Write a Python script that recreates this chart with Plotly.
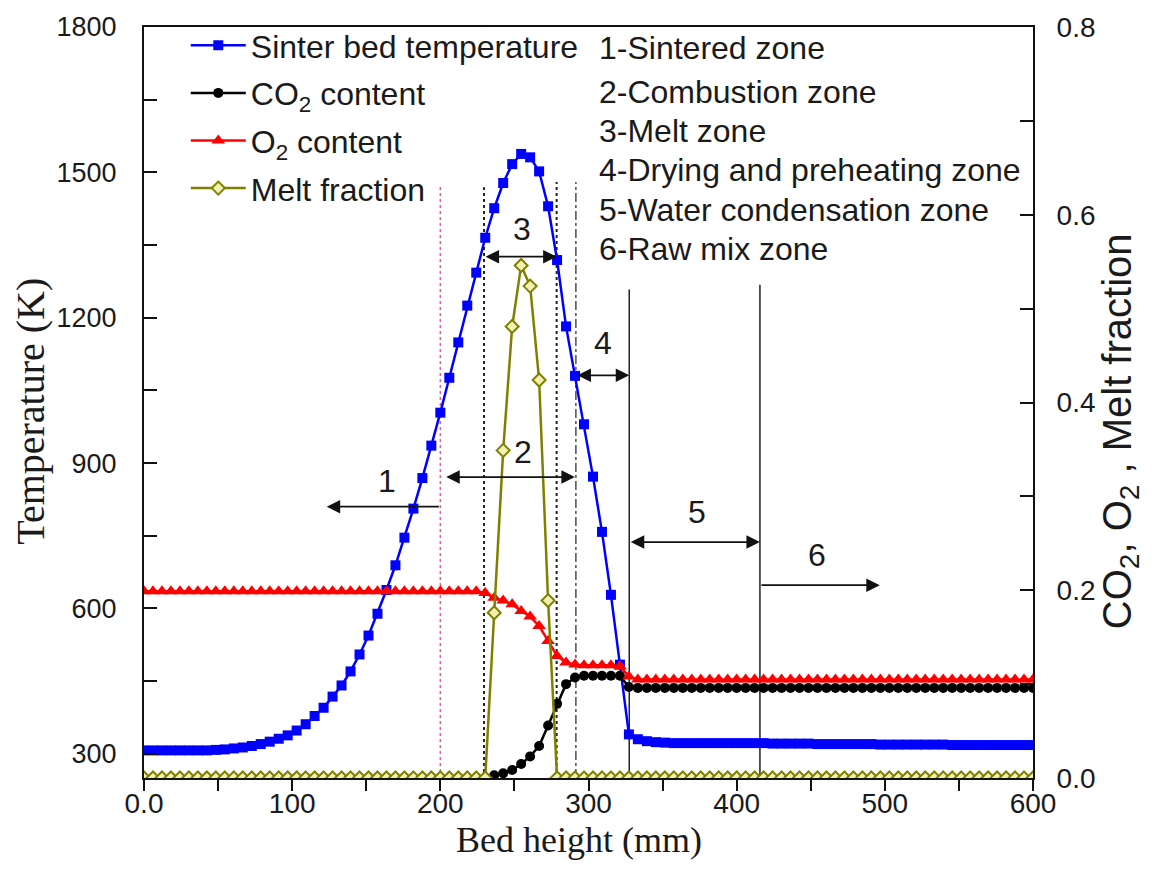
import plotly.graph_objects as go

# ---------------- data ----------------
bed_height = [0.00, 6.06, 12.12, 18.18, 24.24, 30.30, 36.36, 42.42, 48.48, 54.55,
              60.61, 66.67, 72.73, 78.79, 84.85, 90.91, 96.97, 103.03, 109.09, 115.15,
              121.21, 127.27, 133.33, 139.39, 145.45, 151.52, 157.58, 163.64, 169.70, 175.76,
              181.82, 187.88, 193.94, 200.00, 206.06, 212.12, 218.18, 224.24, 230.30, 236.36,
              242.42, 248.48, 254.55, 260.61, 266.67, 272.73, 278.79, 284.85, 290.91, 296.97,
              303.03, 309.09, 315.15, 321.21, 327.27, 333.33, 339.39, 345.45, 351.52, 357.58,
              363.64, 369.70, 375.76, 381.82, 387.88, 393.94, 400.00, 406.06, 412.12, 418.18,
              424.24, 430.30, 436.36, 442.42, 448.48, 454.55, 460.61, 466.67, 472.73, 478.79,
              484.85, 490.91, 496.97, 503.03, 509.09, 515.15, 521.21, 527.27, 533.33, 539.39,
              545.45, 551.52, 557.58, 563.64, 569.70, 575.76, 581.82, 587.88, 593.94, 600.00]

temperature = [307, 307, 307, 307, 307, 307, 307, 307, 308, 309,
               311, 313, 316, 320, 325, 331, 338, 348, 361, 378,
               395, 418, 441, 470, 505, 544, 589, 638, 689, 746,
               806, 869, 936, 1004, 1076, 1149, 1225, 1293, 1365, 1426,
               1478, 1517, 1538, 1531, 1502, 1430, 1319, 1182, 1080, 980,
               872, 758, 628, 484, 340, 330, 326, 324, 323, 322,
               322, 322, 322, 322, 322, 322, 322, 322, 322, 322,
               321, 321, 321, 321, 321, 320, 320, 320, 320, 320,
               320, 320, 319, 319, 319, 319, 319, 319, 319, 319,
               318, 318, 318, 318, 318, 318, 318, 318, 318, 318]

co2_content = [0, 0, 0, 0, 0, 0, 0, 0, 0, 0,
               0, 0, 0, 0, 0, 0, 0, 0, 0, 0,
               0, 0, 0, 0, 0, 0, 0, 0, 0, 0,
               0, 0, 0, 0, 0, 0, 0, 0, 0, 0.003,
               0.005, 0.0085, 0.015, 0.023, 0.034, 0.056, 0.079, 0.100, 0.107, 0.109,
               0.109, 0.109, 0.109, 0.109, 0.097, 0.096, 0.096, 0.096, 0.096, 0.096,
               0.096, 0.096, 0.096, 0.096, 0.096, 0.096, 0.096, 0.096, 0.096, 0.096,
               0.096, 0.096, 0.096, 0.096, 0.096, 0.096, 0.096, 0.096, 0.096, 0.096,
               0.096, 0.096, 0.096, 0.096, 0.096, 0.096, 0.096, 0.096, 0.096, 0.096,
               0.096, 0.096, 0.096, 0.096, 0.096, 0.096, 0.096, 0.096, 0.096, 0.096]

o2_content = [0.199, 0.199, 0.199, 0.199, 0.199, 0.199, 0.199, 0.199, 0.199, 0.199,
              0.199, 0.199, 0.199, 0.199, 0.199, 0.199, 0.199, 0.199, 0.199, 0.199,
              0.199, 0.199, 0.199, 0.199, 0.199, 0.199, 0.199, 0.199, 0.199, 0.199,
              0.199, 0.199, 0.199, 0.199, 0.199, 0.199, 0.199, 0.199, 0.197, 0.192,
              0.189, 0.185, 0.178, 0.172, 0.162, 0.146, 0.130, 0.123, 0.121, 0.120,
              0.120, 0.120, 0.120, 0.119, 0.108, 0.105, 0.105, 0.105, 0.105, 0.105,
              0.105, 0.105, 0.105, 0.105, 0.105, 0.105, 0.105, 0.105, 0.105, 0.105,
              0.105, 0.105, 0.105, 0.105, 0.105, 0.105, 0.105, 0.105, 0.105, 0.105,
              0.105, 0.105, 0.105, 0.105, 0.105, 0.105, 0.105, 0.105, 0.105, 0.105,
              0.105, 0.105, 0.105, 0.105, 0.105, 0.105, 0.105, 0.105, 0.105, 0.105]

melt_fraction = [0, 0, 0, 0, 0, 0, 0, 0, 0, 0,
                 0, 0, 0, 0, 0, 0, 0, 0, 0, 0,
                 0, 0, 0, 0, 0, 0, 0, 0, 0, 0,
                 0, 0, 0, 0, 0, 0, 0, 0, 0, 0.176,
                 0.349, 0.481, 0.546, 0.524, 0.424, 0.189, 0, 0, 0, 0,
                 0, 0, 0, 0, 0, 0, 0, 0, 0, 0,
                 0, 0, 0, 0, 0, 0, 0, 0, 0, 0,
                 0, 0, 0, 0, 0, 0, 0, 0, 0, 0,
                 0, 0, 0, 0, 0, 0, 0, 0, 0, 0,
                 0, 0, 0, 0, 0, 0, 0, 0, 0, 0]

zone_list = ["1-Sintered zone", "2-Combustion zone", "3-Melt zone",
             "4-Drying and preheating zone", "5-Water condensation zone", "6-Raw mix zone"]

# ---------------- figure ----------------
SANS = "Liberation Sans, Arial, sans-serif"
SERIF = "Liberation Serif, Times New Roman, serif"
TXT = "#1a1a1a"

fig = go.Figure()

fig.add_trace(go.Scatter(
    x=bed_height, y=temperature, name="Sinter bed temperature", legendgroup="a",
    mode="lines+markers", line=dict(color="#0000ff", width=2.5),
    marker=dict(symbol="square", size=10, color="#0000ff"), yaxis="y"))
fig.add_trace(go.Scatter(
    x=bed_height, y=co2_content, name="CO<sub>2</sub> content", legendgroup="b",
    mode="lines+markers", line=dict(color="#000000", width=2.5),
    marker=dict(symbol="circle", size=10, color="#000000"), yaxis="y2"))
fig.add_trace(go.Scatter(
    x=bed_height, y=o2_content, name="O<sub>2</sub> content", legendgroup="c",
    mode="lines+markers", line=dict(color="#ff0000", width=2.5),
    marker=dict(symbol="triangle-up", size=12, color="#ff0000"), yaxis="y2"))
fig.add_trace(go.Scatter(
    x=bed_height, y=melt_fraction, name="Melt fraction", legendgroup="d",
    mode="lines+markers", line=dict(color="#808000", width=2.5),
    marker=dict(symbol="diamond", size=10, color="#f2f0b0",
                line=dict(color="#808000", width=2)), yaxis="y2"))

# zone boundary lines (x in mm, y in K on left axis)
vlines = [
    (200.0, 1474, "#ee55aa", "dot", 1.5),
    (229.5, 1469, "#222222", "dot", 2),
    (278.5, 1480, "#222222", "dot", 2),
    (291.5, 1480, "#222222", "dashdot", 1.2),
    (327.5, 1258, "#222222", "solid", 1.5),
    (415.7, 1268, "#222222", "solid", 1.5),
]
for xv, ytop, col, dash, w in vlines:
    fig.add_shape(type="line", xref="x", yref="y", x0=xv, x1=xv, y0=250, y1=ytop,
                  line=dict(color=col, dash=dash, width=w), layer="below")

# arrows: (head_x, head_y, tail_x, tail_y, double)
arrows = [
    (123.3, 810, 200.0, 810, False),
    (290.8, 871, 203.0, 871, True),
    (278.5, 1326, 229.5, 1326, True),
    (327.5, 1081, 291.5, 1081, True),
    (415.7, 737, 327.5, 737, True),
    (496.6, 648, 415.7, 648, False),
]
annotations = []
for hx, hy, tx, ty, dbl in arrows:
    a = dict(x=hx, y=hy, ax=tx, ay=ty, xref="x", yref="y", axref="x", ayref="y",
             text="", showarrow=True, arrowhead=2, arrowsize=1.5, arrowwidth=1.8,
             arrowcolor="#111111", standoff=0, startstandoff=0)
    if dbl:
        a.update(arrowside="end+start", startarrowhead=2, startarrowsize=1.5)
    annotations.append(a)

labels = [("1", 163.8, 864), ("2", 256.0, 922), ("3", 254.8, 1384),
          ("4", 310.0, 1148), ("5", 372.9, 799), ("6", 453.9, 710)]
for t, lx, ly in labels:
    annotations.append(dict(x=lx, y=ly, xref="x", yref="y", text=t, showarrow=False,
                            font=dict(family=SANS, size=32, color=TXT)))

# zone list, one line per annotation (paper y of each row)
zone_rows_y = [0.972, 0.914, 0.862, 0.810, 0.756, 0.704]
for t, zy in zip(zone_list, zone_rows_y):
    annotations.append(dict(x=0.5096, y=zy, xref="paper", yref="paper", xanchor="left",
                            yanchor="middle", align="left", showarrow=False, text=t,
                            font=dict(family=SANS, size=32, color=TXT)))

annotations.append(dict(x=-0.128, y=0.488, xref="paper", yref="paper", textangle=-90,
                        xanchor="center", yanchor="middle",
                        text="Temperature (K)", showarrow=False,
                        font=dict(family=SERIF, size=40, color=TXT)))
annotations.append(dict(x=1.098, y=0.462, xref="paper", yref="paper", textangle=-90,
                        xanchor="center", yanchor="middle",
                        text="CO<sub>2</sub>, O<sub>2</sub> , Melt fraction", showarrow=False,
                        font=dict(family=SANS, size=40, color=TXT)))
annotations.append(dict(x=0.489, y=-0.082, xref="paper", yref="paper",
                        xanchor="center", yanchor="middle",
                        text="Bed height (mm)", showarrow=False,
                        font=dict(family=SERIF, size=36, color=TXT)))

fig.update_layout(
    width=1157, height=883,
    margin=dict(l=144, r=124, t=24, b=105),
    paper_bgcolor="white", plot_bgcolor="white",
    showlegend=True,
    legend=dict(x=0.047, y=1.012, xanchor="left", yanchor="top", bgcolor="rgba(0,0,0,0)",
                font=dict(family=SANS, size=32, color=TXT), tracegroupgap=3,
                itemwidth=55),
    annotations=annotations,
    xaxis=dict(range=[0, 600], tick0=0, dtick=100, labelalias={"0": "0.0"},
               showgrid=False, zeroline=False, showline=True, linecolor="#111",
               linewidth=2, mirror=True, ticks="outside", ticklen=11, tickwidth=2,
               tickcolor="#111", ticklabelstandoff=-12,
               minor=dict(dtick=50, ticks="outside", ticklen=11,
                          tickwidth=2, tickcolor="#111"),
               tickfont=dict(family=SANS, size=28, color=TXT)),
    yaxis=dict(range=[250, 1800], tick0=300, dtick=300, showgrid=False, zeroline=False,
               showline=True, linecolor="#111", linewidth=2, ticks="inside",
               ticklen=13, tickwidth=2, tickcolor="#111", ticklabelstandoff=20,
               minor=dict(dtick=150, ticks="inside", ticklen=13, tickwidth=2,
                          tickcolor="#111"),
               tickfont=dict(family=SANS, size=27, color=TXT)),
    yaxis2=dict(range=[0, 0.8], dtick=0.2, tickformat=".1f", overlaying="y", side="right",
                anchor="x", showgrid=False, zeroline=False, showline=True,
                linecolor="#111", linewidth=2, ticks="inside", ticklen=13, tickwidth=2,
                tickcolor="#111", ticklabelstandoff=16,
                minor=dict(dtick=0.1, ticks="inside", ticklen=13, tickwidth=2,
                           tickcolor="#111"),
                tickfont=dict(family=SANS, size=28, color=TXT)),
)

fig.write_html("out.html")
